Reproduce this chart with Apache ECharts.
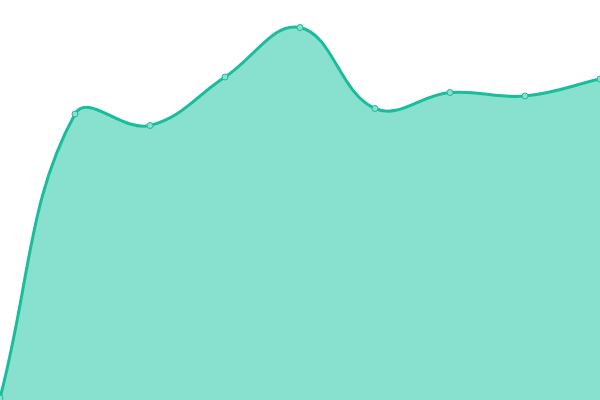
<!DOCTYPE html>
<html>
<head>
<meta charset="utf-8">
<script src="https://cdn.jsdelivr.net/npm/echarts@6/dist/echarts.min.js"></script>
<style>
  html, body { margin: 0; padding: 0; background: #fff; }
  #chart { width: 600px; height: 400px; }
</style>
</head>
<body>
<div id="chart"></div>
<script>
// 数据
var categories = ['1', '2', '3', '4', '5', '6', '7', '8', '9'];
var values = [2, 286, 274.5, 323, 372.5, 291.5, 307.5, 304, 321];

var lineColor = '#1abc9c';
var areaColor = '#88e0cf';

function dist(a, b) {
  return Math.sqrt((a[0] - b[0]) * (a[0] - b[0]) + (a[1] - b[1]) * (a[1] - b[1]));
}

// 平滑曲线（张力样条，允许越过数据点）
function curvePath(pts, t) {
  var d = '';
  var n = pts.length;
  var cps = pts.map(function (p, i) {
    var prev = pts[i - 1] || p;
    var next = pts[i + 1] || p;
    var d01 = dist(prev, p), d12 = dist(p, next);
    var s01 = d01 / (d01 + d12), s12 = d12 / (d01 + d12);
    var vx = next[0] - prev[0], vy = next[1] - prev[1];
    return {
      prev: [p[0] - t * s01 * vx, p[1] - t * s01 * vy],
      next: [p[0] + t * s12 * vx, p[1] + t * s12 * vy]
    };
  });
  for (var i = 1; i < n; i++) {
    var a = cps[i - 1].next, b = cps[i].prev, p = pts[i];
    d += ' C' + a[0] + ',' + a[1] + ' ' + b[0] + ',' + b[1] + ' ' + p[0] + ',' + p[1];
  }
  return d;
}

var chart = echarts.init(document.getElementById('chart'));

var option = {
  animation: false,
  grid: { left: 0, right: 0, top: 0, bottom: 0 },
  xAxis: {
    type: 'category',
    boundaryGap: false,
    data: categories,
    show: false
  },
  yAxis: {
    type: 'value',
    min: 0,
    max: 400,
    show: false
  },
  series: [
    {
      type: 'custom',
      data: values.map(function (v, i) { return [i, v]; }),
      encode: { x: 0, y: 1 },
      z: 1,
      renderItem: function (params, api) {
        if (params.dataIndex !== 0) return null;
        var pts = values.map(function (v, i) { return api.coord([i, v]); });
        var base = api.coord([0, 0])[1];
        var curve = curvePath(pts, 0.4);
        var first = pts[0], last = pts[pts.length - 1];
        return {
          type: 'group',
          children: [
            {
              type: 'path',
              shape: {
                pathData: 'M' + first[0] + ',' + base + ' L' + first[0] + ',' + first[1] + curve +
                  ' L' + last[0] + ',' + base + ' Z'
              },
              style: { fill: areaColor, stroke: null }
            },
            {
              type: 'path',
              shape: { pathData: 'M' + first[0] + ',' + first[1] + curve },
              style: { fill: null, stroke: lineColor, lineWidth: 3 }
            }
          ]
        };
      }
    },
    {
      type: 'line',
      data: values,
      z: 3,
      symbol: 'circle',
      symbolSize: 6,
      showSymbol: true,
      lineStyle: { opacity: 0 },
      itemStyle: { color: '#8ae0cf', borderColor: lineColor, borderWidth: 1 }
    }
  ]
};

chart.setOption(option);
</script>
</body>
</html>
